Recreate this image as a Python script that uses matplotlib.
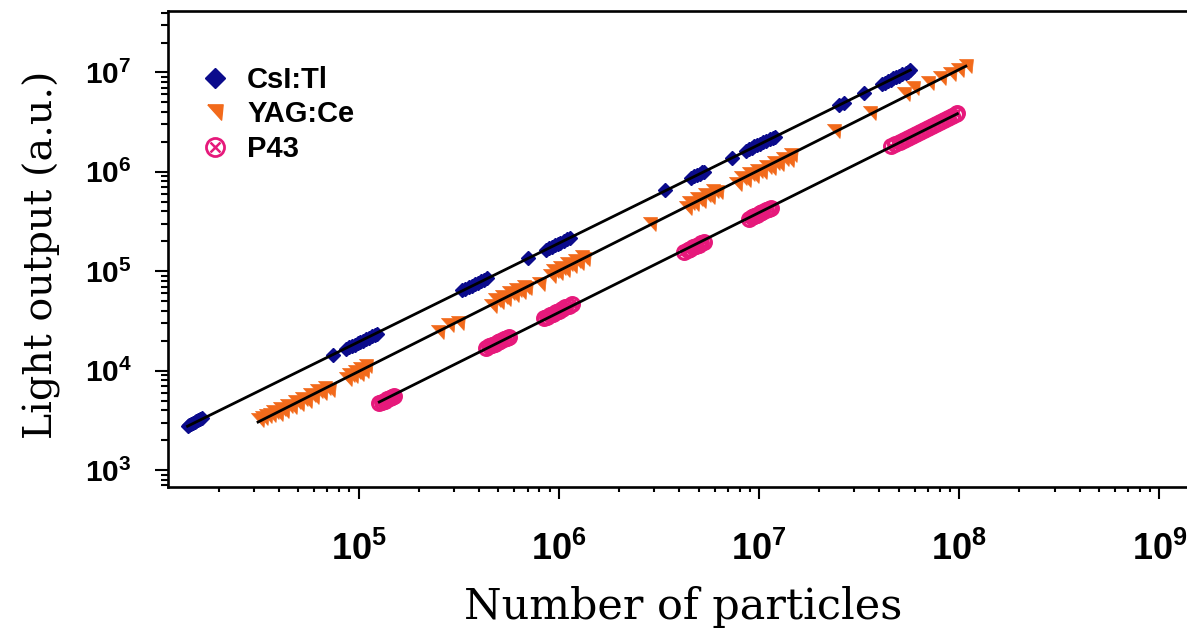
import numpy as np
import matplotlib
matplotlib.use("Agg")
import matplotlib.pyplot as plt
from matplotlib.lines import Line2D
from matplotlib.legend_handler import HandlerTuple

plt.rcParams['mathtext.fontset'] = 'custom'
plt.rcParams['mathtext.rm'] = 'Liberation Sans:bold'
plt.rcParams['mathtext.it'] = 'Liberation Sans:bold'
plt.rcParams['mathtext.bf'] = 'Liberation Sans:bold'

# ---------------- data ----------------
series_names = ["CsI:Tl", "YAG:Ce", "P43"]

csi_n = [1.40e4, 1.43e4, 1.46e4, 1.49e4, 1.52e4, 1.55e4, 1.58e4, 1.62e4, 1.66e4,
         7.5e4,
         8.7e4, 9.0e4, 9.3e4, 9.6e4, 9.9e4, 1.02e5, 1.05e5, 1.09e5, 1.13e5, 1.17e5, 1.21e5, 1.24e5,
         3.30e5, 3.42e5, 3.55e5, 3.68e5, 3.81e5, 3.95e5, 4.09e5, 4.23e5, 4.37e5,
         7.06e5,
         8.65e5, 8.95e5, 9.25e5, 9.55e5, 9.9e5, 1.02e6, 1.06e6, 1.10e6, 1.14e6,
         3.4e6,
         4.6e6, 4.75e6, 4.9e6, 5.05e6, 5.2e6, 5.3e6,
         7.3e6,
         8.6e6, 8.9e6, 9.2e6, 9.5e6, 9.8e6, 1.01e7, 1.05e7, 1.09e7, 1.13e7, 1.17e7, 1.20e7,
         2.5e7, 2.65e7, 3.33e7,
         4.1e7, 4.25e7, 4.4e7, 4.55e7, 4.7e7, 4.85e7, 5.0e7, 5.2e7, 5.4e7, 5.55e7, 5.7e7]
csi_l = [2.80e3, 2.86e3, 2.93e3, 2.98e3, 3.04e3, 3.11e3, 3.16e3, 3.24e3, 3.32e3,
         1.43e4,
         1.65e4, 1.71e4, 1.77e4, 1.83e4, 1.88e4, 1.94e4, 2.00e4, 2.07e4, 2.15e4, 2.22e4, 2.30e4, 2.36e4,
         6.4e4, 6.65e4, 6.9e4, 7.15e4, 7.4e4, 7.65e4, 7.9e4, 8.2e4, 8.45e4,
         1.35e5,
         1.65e5, 1.71e5, 1.76e5, 1.82e5, 1.89e5, 1.94e5, 2.02e5, 2.09e5, 2.17e5,
         6.5e5,
         8.7e5, 9.0e5, 9.3e5, 9.55e5, 9.85e5, 1.0e6,
         1.38e6,
         1.63e6, 1.68e6, 1.74e6, 1.80e6, 1.85e6, 1.91e6, 1.98e6, 2.06e6, 2.13e6, 2.20e6, 2.26e6,
         4.7e6, 4.95e6, 6.2e6,
         7.6e6, 7.85e6, 8.15e6, 8.4e6, 8.7e6, 8.95e6, 9.25e6, 9.6e6, 9.95e6, 1.02e7, 1.05e7]

yag_n = [3.15e4, 3.3e4, 3.45e4, 3.6e4, 3.75e4, 3.9e4, 4.05e4, 4.2e4, 4.4e4, 4.6e4, 4.8e4,
         5.0e4, 5.2e4, 5.45e4, 5.7e4, 5.95e4, 6.2e4, 6.5e4, 6.8e4, 7.1e4,
         8.7e4, 9.0e4, 9.3e4, 9.6e4, 9.9e4, 1.02e5, 1.05e5, 1.09e5,
         2.5e5, 2.8e5, 3.15e5,
         4.6e5, 4.8e5, 5.0e5, 5.2e5, 5.4e5, 5.65e5, 5.9e5, 6.15e5, 6.4e5, 6.7e5, 6.9e5,
         8.0e5,
         9.0e5, 9.4e5, 9.8e5, 1.02e6, 1.06e6, 1.10e6, 1.15e6, 1.20e6, 1.25e6, 1.30e6, 1.34e6,
         2.85e6,
         4.3e6, 4.5e6, 4.7e6, 4.9e6, 5.1e6, 5.35e6, 5.6e6, 5.9e6, 6.15e6,
         7.7e6, 8.1e6, 8.5e6, 8.9e6, 9.3e6, 9.8e6, 1.03e7, 1.08e7, 1.13e7, 1.19e7, 1.25e7,
         1.32e7, 1.39e7, 1.45e7,
         2.36e7, 3.59e7,
         5.3e7, 5.9e7, 7.0e7, 8.0e7, 9.0e7, 9.9e7, 1.08e8]
yag_l = [3.15e3, 3.35e3, 3.5e3, 3.55e3, 3.8e3, 3.7e3, 4.1e3, 3.95e3, 4.4e3, 4.3e3, 4.8e3,
         4.6e3, 5.2e3, 5.0e3, 5.7e3, 5.4e3, 6.2e3, 5.9e3, 6.7e3, 6.4e3,
         8.3e3, 9.0e3, 8.8e3, 9.6e3, 9.3e3, 1.04e4, 1.0e4, 1.1e4,
         2.45e4, 2.85e4, 3.0e4,
         4.5e4, 5.1e4, 4.9e4, 5.5e4, 5.3e4, 6.0e4, 5.7e4, 6.5e4, 6.2e4, 7.0e4, 6.8e4,
         7.4e4,
         8.9e4, 1.0e5, 9.6e4, 1.08e5, 1.04e5, 1.17e5, 1.12e5, 1.28e5, 1.22e5, 1.38e5, 1.33e5,
         3.0e5,
         4.3e5, 4.9e5, 4.7e5, 5.3e5, 5.1e5, 5.8e5, 5.6e5, 6.4e5, 6.2e5,
         7.6e5, 8.6e5, 8.3e5, 9.4e5, 9.0e5, 1.03e6, 9.9e5, 1.13e6, 1.08e6, 1.24e6, 1.19e6,
         1.36e6, 1.31e6, 1.48e6,
         2.6e6, 3.9e6,
         6.0e6, 6.9e6, 7.9e6, 8.7e6, 9.6e6, 1.05e7, 1.15e7]

p43_n = [1.27e5, 1.31e5, 1.35e5, 1.39e5, 1.43e5, 1.47e5, 1.51e5,
         4.34e5, 4.5e5, 4.65e5, 4.8e5, 4.95e5, 5.1e5, 5.3e5, 5.5e5, 5.65e5,
         8.45e5, 8.75e5, 9.05e5, 9.35e5, 9.7e5, 1.0e6, 1.04e6, 1.08e6, 1.12e6, 1.17e6,
         4.23e6, 4.4e6, 4.55e6, 4.7e6, 4.85e6, 5.0e6, 5.15e6, 5.32e6,
         8.9e6, 9.2e6, 9.5e6, 9.8e6, 1.01e7, 1.04e7, 1.08e7, 1.12e7, 1.15e7,
         4.57e7, 4.8e7, 5.05e7, 5.3e7, 5.55e7, 5.8e7, 6.1e7, 6.4e7, 6.7e7, 7.0e7, 7.35e7,
         7.7e7, 8.05e7, 8.4e7, 8.8e7, 9.2e7, 9.6e7, 9.8e7]
p43_l = [4.7e3, 4.85e3, 5.0e3, 5.15e3, 5.3e3, 5.45e3, 5.6e3,
         1.69e4, 1.75e4, 1.81e4, 1.87e4, 1.93e4, 1.99e4, 2.07e4, 2.14e4, 2.20e4,
         3.38e4, 3.50e4, 3.62e4, 3.74e4, 3.88e4, 4.0e4, 4.16e4, 4.32e4, 4.48e4, 4.68e4,
         1.57e5, 1.63e5, 1.68e5, 1.74e5, 1.79e5, 1.85e5, 1.91e5, 1.97e5,
         3.38e5, 3.50e5, 3.61e5, 3.72e5, 3.84e5, 3.95e5, 4.10e5, 4.26e5, 4.37e5,
         1.81e6, 1.90e6, 2.0e6, 2.09e6, 2.19e6, 2.29e6, 2.41e6, 2.53e6, 2.65e6, 2.77e6, 2.90e6,
         3.04e6, 3.18e6, 3.32e6, 3.48e6, 3.63e6, 3.79e6, 3.87e6]

x_ticks = [1e5, 1e6, 1e7, 1e8, 1e9]
x_tick_labels = [r'$\mathbf{10^{5}}$', r'$\mathbf{10^{6}}$', r'$\mathbf{10^{7}}$',
                 r'$\mathbf{10^{8}}$', r'$\mathbf{10^{9}}$']
y_ticks = [1e3, 1e4, 1e5, 1e6, 1e7]
y_tick_labels = [r'$\mathbf{10^{3}}$', r'$\mathbf{10^{4}}$', r'$\mathbf{10^{5}}$',
                 r'$\mathbf{10^{6}}$', r'$\mathbf{10^{7}}$']

# ---------------- styling ----------------
c_csi = '#0b0b8c'
c_yag = '#f26a1b'
c_p43 = '#e6197b'
tri = [(-1, 1), (1, 1), (0.8, -1), (-1, 1)]

W, H = 1187, 636
fig = plt.figure(figsize=(W / 100, H / 100), dpi=100)
ax_l, ax_r, ax_t, ax_b = 168.3, 1200.0, 11.0, 486.7
ax = fig.add_axes([ax_l / W, 1 - ax_b / H, (ax_r - ax_l) / W, (ax_b - ax_t) / H])
ax.set_xscale('log')
ax.set_yscale('log')
ax.set_xlim(10 ** 4.05, 10 ** 9.203)
ax.set_ylim(10 ** 2.832, 10 ** 7.618)

ax.plot(csi_n, csi_l, ls='none', marker='D', ms=7.5, color=c_csi, mec=c_csi, zorder=3)
ax.plot(yag_n, yag_l, ls='none', marker=tri, ms=10, color=c_yag, mec=c_yag, mew=0.5, zorder=3)
ax.plot(p43_n, p43_l, ls='none', marker='o', ms=10, mfc='none', mec=c_p43, mew=2.2, zorder=3)
ax.plot(p43_n, p43_l, ls='none', marker='x', ms=6, mec=c_p43, mew=1.6, zorder=3)

# power-law fits through each series
for n, l in [(csi_n, csi_l), (yag_n, yag_l), (p43_n, p43_l)]:
    ln, ll = np.log10(n), np.log10(l)
    k, b = np.polyfit(ln, ll, 1)
    xx = np.array([ln.min(), ln.max()])
    ax.plot(10 ** xx, 10 ** (k * xx + b), color='black', lw=2.0, zorder=4)

for s in ax.spines.values():
    s.set_linewidth(1.9)
ax.set_xticks(x_ticks)
ax.set_xticklabels(x_tick_labels, fontsize=26)
ax.set_yticks(y_ticks)
ax.set_yticklabels(y_tick_labels, fontsize=21.5)
ax.tick_params(axis='x', which='major', direction='out', length=8.6, width=1.5, pad=23)
ax.tick_params(axis='x', which='minor', direction='out', length=3.8, width=1.5)
ax.tick_params(axis='y', which='major', direction='out', length=9.4, width=1.5, pad=17)
ax.tick_params(axis='y', which='minor', direction='out', length=5.0, width=1.5)
ax.xaxis.set_minor_formatter(plt.NullFormatter())
ax.yaxis.set_minor_formatter(plt.NullFormatter())

# legend
h1 = Line2D([], [], ls='none', marker='D', ms=10, color=c_csi)
h2 = Line2D([], [], ls='none', marker=tri, ms=11, color=c_yag)
h3a = Line2D([], [], ls='none', marker='o', ms=13, mfc='none', mec=c_p43, mew=2)
h3b = Line2D([], [], ls='none', marker='x', ms=7.5, mec=c_p43, mew=1.8)
leg = ax.legend([h1, h2, (h3a, h3b)], series_names, loc='upper left',
                bbox_to_anchor=(200 / W, 1 - 66 / H), bbox_transform=fig.transFigure,
                frameon=False, handlelength=1.0, handletextpad=0.62, labelspacing=0.22,
                borderpad=0, borderaxespad=0,
                prop={'family': 'Liberation Sans', 'weight': 'bold', 'size': 21},
                handler_map={tuple: HandlerTuple(ndivide=1)})

fig.text(683 / W, 1 - 607 / H, 'Number of particles', family='DejaVu Serif',
         fontsize=31, ha='center', va='center')
fig.text(42 / W, 1 - 255 / H, 'Light output (a.u.)', family='DejaVu Serif',
         fontsize=28.5, ha='center', va='center', rotation=90)

fig.savefig('out.png', dpi=100)
